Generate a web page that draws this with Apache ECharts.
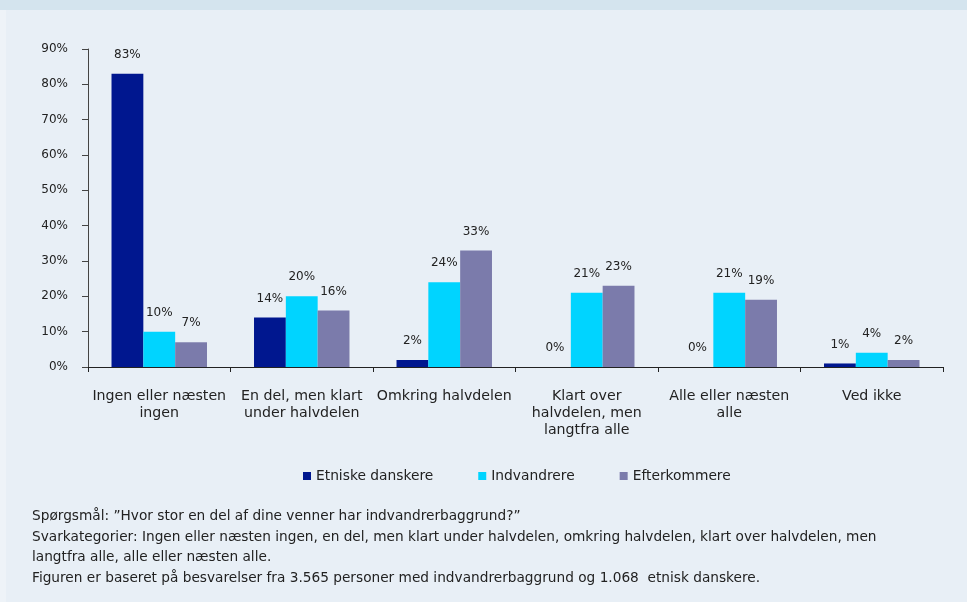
<!DOCTYPE html>
<html>
<head>
<meta charset="utf-8">
<script src="https://cdn.jsdelivr.net/npm/echarts@6/dist/echarts.min.js"></script>
<style>
html, body { margin: 0; padding: 0; background: #e8eff6; }
#chart { width: 967px; height: 602px; }
</style>
</head>
<body>
<div id="chart"></div>
<script>
var categories = ['Ingen eller næsten\ningen', 'En del, men klart\nunder halvdelen', 'Omkring halvdelen',
    'Klart over\nhalvdelen, men\nlangtfra alle', 'Alle eller næsten\nalle', 'Ved ikke'];
var seriesNames = ['Etniske danskere', 'Indvandrere', 'Efterkommere'];
var etniske = [83, 14, 2, 0, 0, 1];
var indvandrere = [10, 20, 24, 21, 21, 4];
var efterkommere = [7, 16, 33, 23, 19, 2];
var colors = ['#00178f', '#00d4ff', '#7b7bab'];
var footerLines = [
    'Spørgsmål: ”Hvor stor en del af dine venner har indvandrerbaggrund?”',
    'Svarkategorier: Ingen eller næsten ingen, en del, men klart under halvdelen, omkring halvdelen, klart over halvdelen, men',
    'langtfra alle, alle eller næsten alle.',
    'Figuren er baseret på besvarelser fra 3.565 personer med indvandrerbaggrund og 1.068  etnisk danskere.'
];

var font = 'DejaVu Sans';
var chart = echarts.init(document.getElementById('chart'));

function makeSeries(name, data, color) {
    return {
        name: name,
        type: 'bar',
        data: data,
        barGap: '0%',
        barCategoryGap: '33%',
        itemStyle: { color: color },
        label: {
            show: true,
            position: 'top',
            distance: 13,
            formatter: '{c}%',
            fontFamily: font,
            fontSize: 12,
            color: '#222'
        }
    };
}

var graphics = [
    { type: 'rect', shape: { x: 0, y: 0, width: 967, height: 10 }, style: { fill: '#d4e4ee' } },
    { type: 'rect', shape: { x: 0, y: 10, width: 6, height: 592 }, style: { fill: '#eef3f8' } }
];
var footerY = [517, 538, 558, 579];
footerLines.forEach(function (t, i) {
    graphics.push({
        type: 'text', left: 32, top: footerY[i] - 8,
        style: { text: t, font: '13.7px "' + font + '"', fill: '#222' }
    });
});

chart.setOption({
    backgroundColor: '#e8eff6',
    animation: false,
    color: colors,
    grid: { left: 88, right: 24, top: 49, bottom: 235 },
    legend: {
        data: seriesNames,
        left: 298,
        top: 464,
        itemWidth: 8,
        itemHeight: 8,
        itemGap: 45,
        icon: 'rect',
        textStyle: { fontFamily: font, fontSize: 13.8, color: '#222' }
    },
    xAxis: {
        type: 'category',
        data: categories,
        axisLine: { lineStyle: { color: '#222' } },
        axisTick: { show: true, length: 5, lineStyle: { color: '#222' } },
        axisLabel: {
            interval: 0,
            margin: 21,
            fontFamily: font,
            fontSize: 14.2,
            lineHeight: 17,
            color: '#222'
        }
    },
    yAxis: {
        type: 'value',
        min: 0,
        max: 90,
        interval: 10,
        splitLine: { show: false },
        axisLine: { show: true, lineStyle: { color: '#444' } },
        axisTick: { show: true, length: 6, lineStyle: { color: '#444' } },
        axisLabel: {
            formatter: '{value}%',
            margin: 20,
            fontFamily: font,
            fontSize: 12,
            color: '#222'
        }
    },
    series: [
        makeSeries(seriesNames[0], etniske, colors[0]),
        makeSeries(seriesNames[1], indvandrere, colors[1]),
        makeSeries(seriesNames[2], efterkommere, colors[2])
    ],
    graphic: graphics
});
</script>
</body>
</html>
